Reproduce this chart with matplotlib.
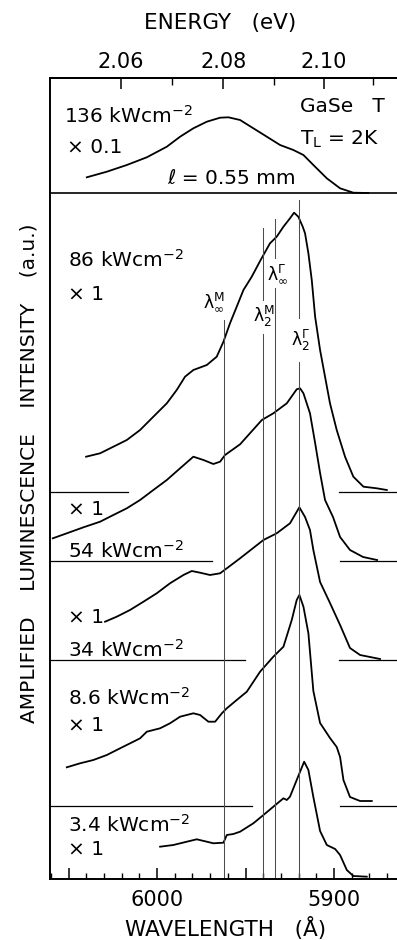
import numpy as np
import matplotlib.pyplot as plt
from matplotlib.ticker import MultipleLocator, FixedLocator

# wavelength (Å) and intensity above each spectrum's own baseline (a.u.)
wl_136 = [6039.7, 6028.4, 6017.1, 6005.8, 5994.5, 5987.0, 5979.5, 5971.9, 5964.4, 5959.7, 5953.1,
          5945.6, 5938.0, 5930.5, 5923.0, 5917.3, 5911.7, 5904.1, 5896.6, 5889.1, 5880.6]
i_136 = [15.7, 21.3, 28, 35.7, 46.3, 56.3, 64.7, 71.3, 75.3, 75.7, 73,
         64.7, 56.3, 48, 43, 38, 28, 14.7, 4.7, 0.3, 0]

wl_86 = [6040.1, 6032.2, 6024.7, 6017.1, 6009.6, 6002.1, 5994.5, 5988.9, 5984.2, 5979.5, 5971.9,
         5966.3, 5962.5, 5958.8, 5955.0, 5951.2, 5946.5, 5941.8, 5936.2, 5932.4, 5928.6, 5924.9,
         5922.6, 5920.2, 5917.7, 5916.4, 5914.5, 5912.6, 5910.7, 5907.9, 5905.1, 5902.3, 5898.5,
         5893.8, 5889.1, 5883.4, 5875.9, 5870.2]
i_86 = [35.3, 38.7, 45.3, 52, 62, 75.3, 88.7, 102, 115.3, 122, 127,
        135.3, 150.3, 168.7, 185.3, 202, 215.3, 231, 248.7, 255.3, 265.3, 273.7,
        279.3, 275.3, 265.3, 258.7, 238.7, 212, 175.3, 142, 115.3, 88.7, 62,
        35.3, 15.3, 5.3, 3.7, 2]

wl_54 = [6058.9, 6051.0, 6041.6, 6032.2, 6024.7, 6017.1, 6009.6, 6002.1, 5994.5, 5987.0, 5979.5,
         5973.8, 5968.2, 5964.4, 5961.6, 5953.1, 5940.8, 5934.3, 5926.7, 5921.1, 5919.2, 5917.3,
         5913.6, 5910.7, 5907.9, 5905.1, 5900.6, 5896.6, 5891.0, 5883.6, 5875.7]
i_54 = [22.7, 27.7, 33.7, 39.3, 46, 52.7, 61, 71, 81, 92.7, 104.3,
        101, 97, 99.3, 106, 116.7, 141, 147.7, 157.7, 171.7, 172.7, 167.7,
        147.7, 118, 88, 61, 44, 24, 11, 4, 1]

wl_34 = [6029.4, 6022.8, 6015.3, 6007.7, 6000.2, 5992.7, 5985.1, 5980.4, 5975.7, 5970.1, 5964.4,
         5960.6, 5953.1, 5939.9, 5932.4, 5924.9, 5919.6, 5916.4, 5913.6, 5911.7, 5907.9, 5902.3,
         5896.6, 5891.0, 5885.3, 5874.0]
i_34 = [38.3, 43.3, 50, 58.3, 66.7, 76.7, 85, 89, 87.3, 85, 86.7,
        91.7, 101.7, 120, 126.7, 136.7, 152.7, 143, 130, 110, 78, 57,
        35, 12, 5, 1]

wl_8p6 = [6051.0, 6043.5, 6036.0, 6028.4, 6020.9, 6013.4, 6009.6, 6005.8, 5998.3, 5992.7, 5987.0,
          5979.5, 5975.7, 5971.0, 5967.2, 5963.4, 5960.6, 5955.0, 5949.3, 5941.8, 5934.3, 5928.6,
          5923.9, 5921.1, 5919.6, 5917.3, 5914.5, 5911.7, 5907.9, 5902.3, 5898.5, 5896.6, 5894.7,
          5891.0, 5885.3, 5878.7]
i_8p6 = [38.7, 42.7, 46, 51, 57.7, 64.3, 67.7, 74.3, 77.7, 82.7, 89.3,
         92.7, 91, 84.3, 84.3, 92.7, 97.7, 106, 114.3, 134.3, 149.3, 159.3,
         186, 206, 211, 199.3, 172.7, 115, 83, 68, 59, 49, 26,
         9, 5, 5]

wl_3p4 = [5998.3, 5990.8, 5983.2, 5977.6, 5971.9, 5968.2, 5962.5, 5960.6, 5956.9, 5953.1, 5945.6,
          5939.9, 5934.3, 5928.6, 5926.7, 5924.9, 5921.1, 5916.9, 5914.5, 5911.7, 5907.9, 5904.1,
          5899.4, 5896.6, 5892.8, 5889.1, 5881.5]
i_3p4 = [32.3, 34, 37.3, 39.7, 37.3, 35.7, 36.3, 44, 45, 47.3, 55.7,
         64, 72.3, 80.7, 79, 82.3, 99, 117.3, 109, 82, 48, 34,
         30, 24, 9, 3, 2.3]

# baselines of the stacked spectra (top to bottom)
offsets = [686, 387, 318, 219, 73, 0]
# partial baseline segments: end of left piece, start of right piece (Å)
base_left_end = [6016.4, 5969.1, 5950.3, 5946.3]
base_right_start = [5897.2, 5896.6, 5897.2, 5896.6]

# marked wavelengths: lambda_inf^M, lambda_2^M, lambda_inf^Gamma, lambda_2^Gamma
lam_pos = [5962.0, 5940.0, 5933.5, 5920.0]
lam_top = [559, 651, 660, 679]
lam_names = [r'λ$^{\mathrm{M}}_{\infty}$', r'λ$^{\mathrm{M}}_{2}$',
             r'λ$^{\Gamma}_{\infty}$', r'λ$^{\Gamma}_{2}$']

K = 12402.0  # eV*Å
W, H = 397, 940
X_LEFT, X_RIGHT = 6060.5, 5855.0

fig = plt.figure(figsize=(W / 100, H / 100), dpi=100)
ax = fig.add_axes([50 / W, 61 / H, 363.7 / W, 801 / H])


def ftext(px, py, s, **kw):
    fig.text(px / W, 1 - py / H, s, **kw)


spectra = [(wl_136, i_136), (wl_86, i_86), (wl_54, i_54),
           (wl_34, i_34), (wl_8p6, i_8p6), (wl_3p4, i_3p4)]
for (wl, inten), off in zip(spectra, offsets):
    ax.plot(wl, np.array(inten) + off, color='k', lw=1.3, solid_joinstyle='round')

# separator of the top panel
ax.axhline(offsets[0], color='k', lw=1.2)
for off, le, rs in zip(offsets[1:5], base_left_end, base_right_start):
    ax.plot([X_LEFT, le], [off, off], color='k', lw=0.9)
    ax.plot([rs, X_RIGHT], [off, off], color='k', lw=0.9)

# vertical marker lines (gaps where the labels sit)
gaps = [None, (545, 579), (591, 621), (517, 561)]
for x, top, gap in zip(lam_pos, lam_top, gaps):
    if gap is None:
        ax.plot([x, x], [0, top], color='0.3', lw=0.75)
    else:
        ax.plot([x, x], [0, gap[0]], color='0.3', lw=0.75)
        ax.plot([x, x], [gap[1], top], color='0.3', lw=0.75)

ax.set_xlim(X_LEFT, X_RIGHT)
ax.set_ylim(0, 801)
ax.set_yticks([])
ax.spines['right'].set_visible(False)
for s in ['left', 'bottom', 'top']:
    ax.spines[s].set_linewidth(1.4)

ax.xaxis.set_major_locator(FixedLocator([6050, 6000, 5950, 5900]))
ax.xaxis.set_minor_locator(MultipleLocator(10))
ax.set_xticklabels(['', '6000', '', '5900'])
ax.tick_params(axis='x', which='major', direction='in', length=8, width=1.1,
               labelsize=15, pad=8)
ax.tick_params(axis='x', which='minor', direction='in', length=4, width=1.0)

sec = ax.secondary_xaxis('top', functions=(lambda l: K / l, lambda e: K / e))
sec.set_xticks([2.06, 2.08, 2.10])
sec.set_xticklabels(['2.06', '2.08', '2.10'])
sec.xaxis.set_minor_locator(FixedLocator([2.07, 2.09, 2.11]))
sec.tick_params(axis='x', which='major', direction='in', length=8, width=1.1,
                labelsize=15, pad=4)
sec.tick_params(axis='x', which='minor', direction='in', length=5, width=1.0)
sec.spines['top'].set_linewidth(1.4)

ftext(220, 29, 'ENERGY   (eV)', fontsize=15.5, ha='center', va='baseline')
ftext(226, 936, 'WAVELENGTH   (Å)', fontsize=15.5, ha='center', va='baseline')
ftext(29, 473, 'AMPLIFIED    LUMINESCENCE    INTENSITY    (a.u.)', fontsize=14.5,
      rotation=90, ha='center', va='center')

lab = dict(fontsize=14.5, ha='left', va='baseline')
ftext(64, 123, r'136 kWcm$^{-2}$', **lab)
ftext(67, 153, '× 0.1', **lab)
ftext(300, 112, 'GaSe   T', **lab)
ftext(300, 145, r'T$_\mathregular{L}$ = 2K', **lab)
ftext(167, 184, 'ℓ = 0.55 mm', **lab)
ftext(68, 267, r'86 kWcm$^{-2}$', **lab)
ftext(68, 300, '× 1', **lab)
ftext(68, 515, '× 1', **lab)
ftext(68, 558, r'54 kWcm$^{-2}$', **lab)
ftext(68, 623, '× 1', **lab)
ftext(68, 657, r'34 kWcm$^{-2}$', **lab)
ftext(68, 705, r'8.6 kWcm$^{-2}$', **lab)
ftext(68, 731, '× 1', **lab)
ftext(68, 832, r'3.4 kWcm$^{-2}$', **lab)
ftext(68, 855, '× 1', **lab)

# marker labels (centre positions in pixels)
lam_xy = [(214, 302), (264, 316), (278, 274), (301, 340)]
for (px, py), name in zip(lam_xy, lam_names):
    ftext(px, py, name, fontsize=12.5, ha='center', va='center')

fig.savefig('out.png', dpi=100)
